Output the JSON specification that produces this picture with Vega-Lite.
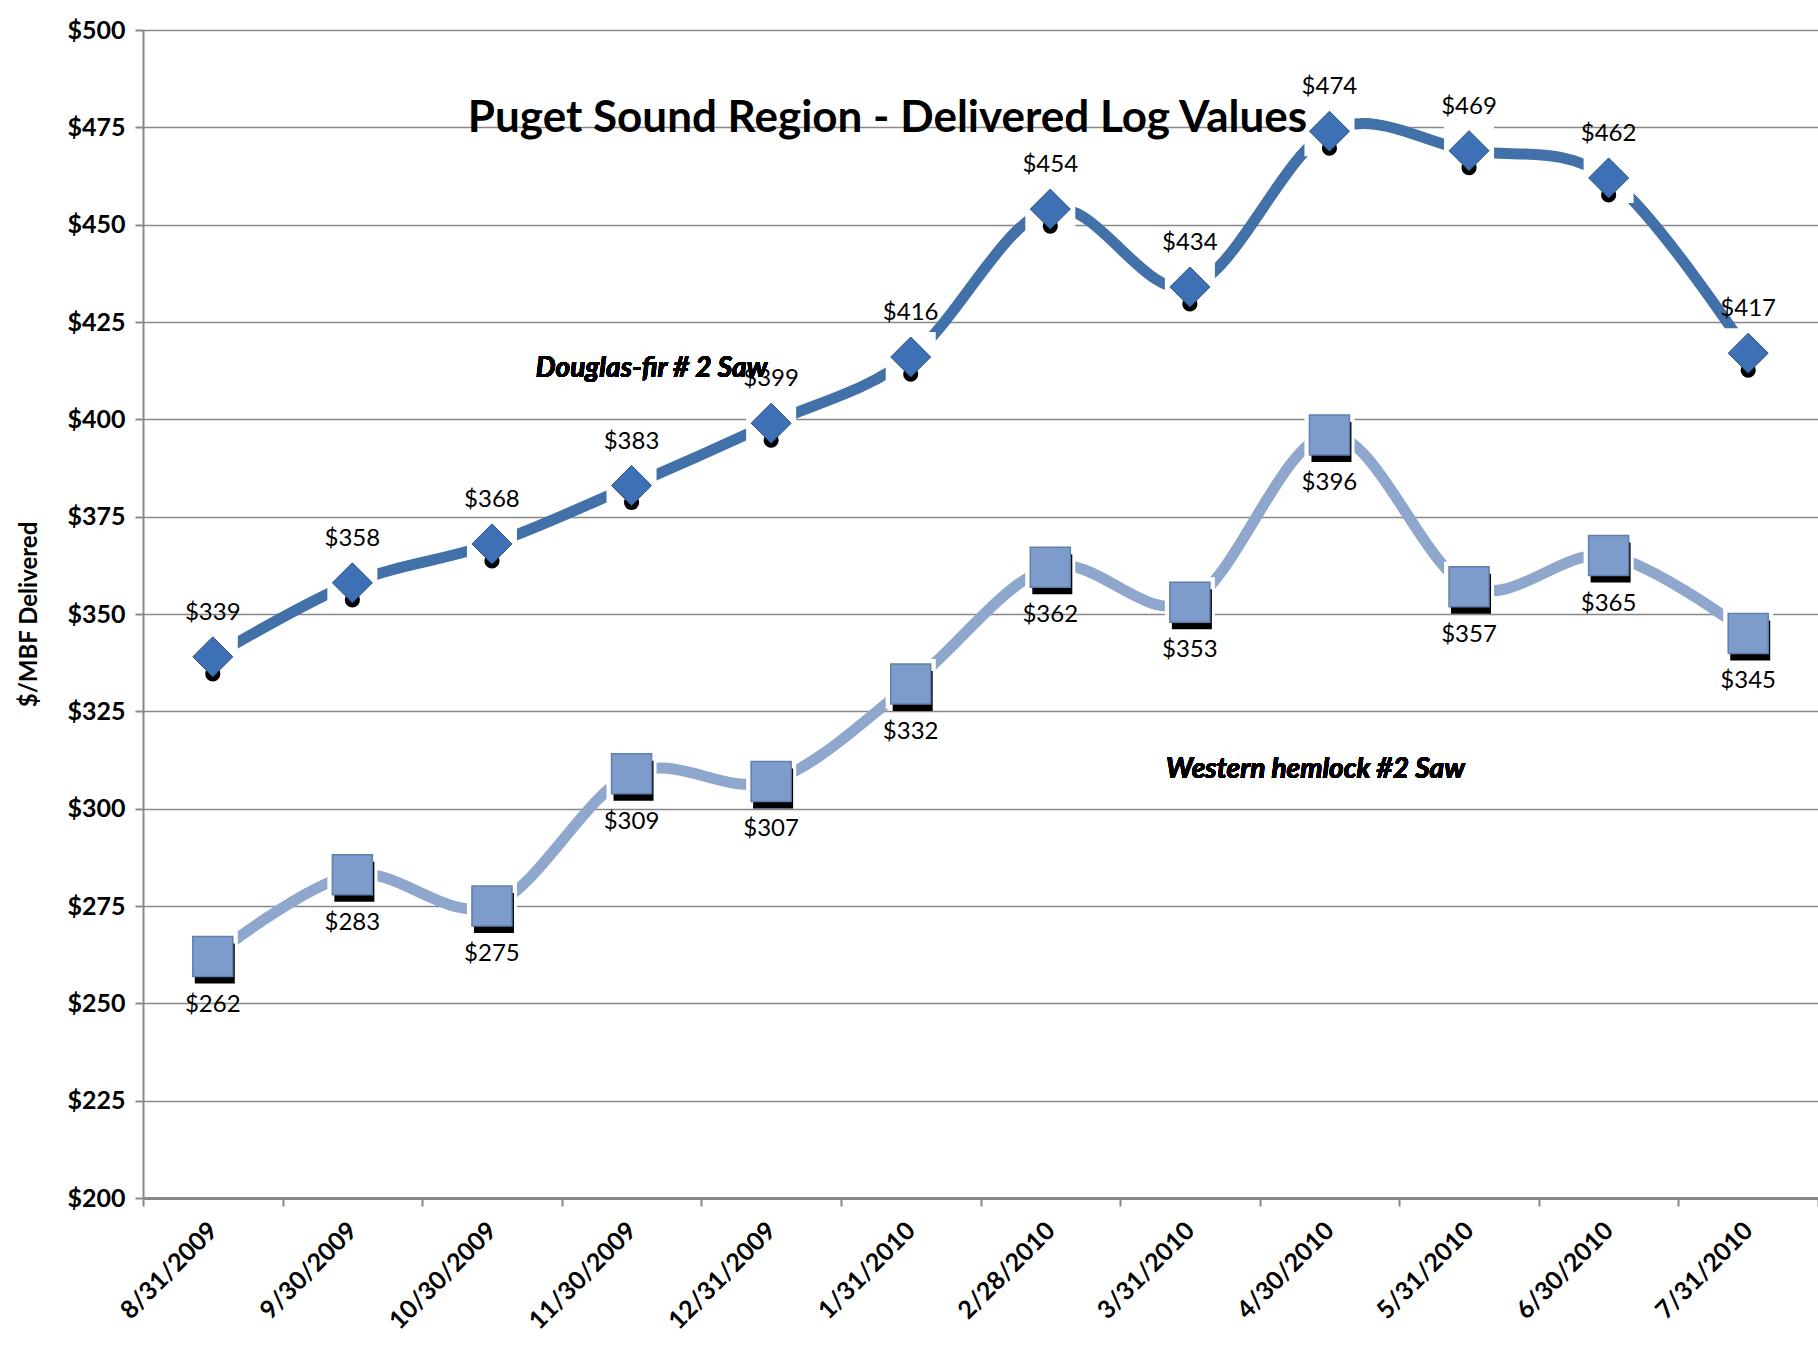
{
  "$schema": "https://vega.github.io/schema/vega-lite/v6.json",
  "width": 1675,
  "height": 1168,
  "autosize": {"type": "none"},
  "padding": {"left": 143, "top": 30, "right": 0, "bottom": 157},
  "background": "white",
  "config": {"view": {"stroke": null}, "font": "Lato"},
  "title": {
    "text": "Puget Sound Region - Delivered Log Values",
    "font": "Lato",
    "fontSize": 44,
    "fontWeight": "bold",
    "color": "black",
    "anchor": "middle",
    "baseline": "alphabetic",
    "offset": 0,
    "dx": -93,
    "dy": 158
  },
  "data": {
    "values": [
      {"date": "8/31/2009", "series": "Douglas-fir # 2 Saw", "price": 339},
      {"date": "9/30/2009", "series": "Douglas-fir # 2 Saw", "price": 358},
      {"date": "10/30/2009", "series": "Douglas-fir # 2 Saw", "price": 368},
      {"date": "11/30/2009", "series": "Douglas-fir # 2 Saw", "price": 383},
      {"date": "12/31/2009", "series": "Douglas-fir # 2 Saw", "price": 399},
      {"date": "1/31/2010", "series": "Douglas-fir # 2 Saw", "price": 416},
      {"date": "2/28/2010", "series": "Douglas-fir # 2 Saw", "price": 454},
      {"date": "3/31/2010", "series": "Douglas-fir # 2 Saw", "price": 434},
      {"date": "4/30/2010", "series": "Douglas-fir # 2 Saw", "price": 474},
      {"date": "5/31/2010", "series": "Douglas-fir # 2 Saw", "price": 469},
      {"date": "6/30/2010", "series": "Douglas-fir # 2 Saw", "price": 462},
      {"date": "7/31/2010", "series": "Douglas-fir # 2 Saw", "price": 417},
      {"date": "8/31/2009", "series": "Western hemlock #2 Saw", "price": 262},
      {"date": "9/30/2009", "series": "Western hemlock #2 Saw", "price": 283},
      {"date": "10/30/2009", "series": "Western hemlock #2 Saw", "price": 275},
      {"date": "11/30/2009", "series": "Western hemlock #2 Saw", "price": 309},
      {"date": "12/31/2009", "series": "Western hemlock #2 Saw", "price": 307},
      {"date": "1/31/2010", "series": "Western hemlock #2 Saw", "price": 332},
      {"date": "2/28/2010", "series": "Western hemlock #2 Saw", "price": 362},
      {"date": "3/31/2010", "series": "Western hemlock #2 Saw", "price": 353},
      {"date": "4/30/2010", "series": "Western hemlock #2 Saw", "price": 396},
      {"date": "5/31/2010", "series": "Western hemlock #2 Saw", "price": 357},
      {"date": "6/30/2010", "series": "Western hemlock #2 Saw", "price": 365},
      {"date": "7/31/2010", "series": "Western hemlock #2 Saw", "price": 345}
    ]
  },
  "encoding": {
    "x": {
      "field": "date",
      "type": "nominal",
      "sort": null,
      "scale": {"type": "band", "paddingInner": 0, "paddingOuter": 0},
      "axis": {
        "title": null,
        "tickBand": "extent",
        "labelAngle": -45,
        "labelAlign": "right",
        "labelBaseline": "middle",
        "labelPadding": 20,
        "labelFont": "Lato",
        "labelFontSize": 25,
        "labelFontWeight": "bold",
        "labelColor": "black",
        "tickSize": 8,
        "tickWidth": 2,
        "tickColor": "#888888",
        "domainColor": "#888888",
        "domainWidth": 3,
        "grid": false
      }
    },
    "y": {
      "field": "price",
      "type": "quantitative",
      "scale": {"domain": [200, 500], "nice": false, "zero": false},
      "axis": {
        "values": [200, 225, 250, 275, 300, 325, 350, 375, 400, 425, 450, 475, 500],
        "format": "$.0f",
        "title": "$/MBF Delivered",
        "titleFont": "Lato",
        "titleFontSize": 24,
        "titleFontWeight": "bold",
        "titleColor": "black",
        "titleAngle": -90,
        "titleAlign": "center",
        "titleBaseline": "middle",
        "titleX": -114,
        "labelFont": "Lato",
        "labelFontSize": 25,
        "labelFontWeight": "bold",
        "labelColor": "black",
        "labelPadding": 10,
        "tickSize": 8,
        "tickWidth": 2,
        "tickColor": "#888888",
        "domainColor": "#888888",
        "domainWidth": 2,
        "grid": true,
        "gridColor": "#888888",
        "gridWidth": 1.5
      }
    }
  },
  "layer": [
    {
      "mark": {"type": "line", "strokeWidth": 11, "interpolate": "cardinal"},
      "encoding": {
        "color": {
          "field": "series",
          "type": "nominal",
          "legend": null,
          "scale": {"domain": ["Douglas-fir # 2 Saw", "Western hemlock #2 Saw"], "range": ["#4270A8", "#8FA7CD"]}
        }
      }
    },
    {
      "mark": {"type": "point", "shape": "square", "filled": true, "size": 2500, "color": "white", "opacity": 1}
    },
    {
      "transform": [{"filter": "datum.series == 'Douglas-fir # 2 Saw'"}],
      "mark": {"type": "point", "shape": "circle", "filled": true, "size": 230, "color": "black", "opacity": 1, "yOffset": 17}
    },
    {
      "transform": [{"filter": "datum.series == 'Western hemlock #2 Saw'"}],
      "mark": {"type": "point", "shape": "square", "filled": true, "size": 1600, "color": "black", "opacity": 1, "xOffset": 2, "yOffset": 7}
    },
    {
      "transform": [{"filter": "datum.series == 'Douglas-fir # 2 Saw'"}],
      "mark": {"type": "point", "shape": "diamond", "filled": true, "size": 1600, "color": "#3D70B5", "stroke": "#2B5288", "strokeWidth": 1, "opacity": 1}
    },
    {
      "transform": [{"filter": "datum.series == 'Western hemlock #2 Saw'"}],
      "mark": {"type": "point", "shape": "square", "filled": true, "size": 1600, "color": "#7D9CCB", "stroke": "#5F7FAF", "strokeWidth": 1.5, "opacity": 1}
    },
    {
      "transform": [{"filter": "datum.series == 'Douglas-fir # 2 Saw'"}],
      "mark": {"type": "text", "font": "Lato", "fontSize": 24, "color": "black", "baseline": "middle", "dy": -44},
      "encoding": {"text": {"field": "price", "type": "quantitative", "format": "$.0f"}}
    },
    {
      "transform": [{"filter": "datum.series == 'Western hemlock #2 Saw'"}],
      "mark": {"type": "text", "font": "Lato", "fontSize": 24, "color": "black", "baseline": "middle", "dy": 48},
      "encoding": {"text": {"field": "price", "type": "quantitative", "format": "$.0f"}}
    },
    {
      "mark": {"type": "text", "text": "Douglas-fir # 2 Saw", "font": "Lato", "fontSize": 28, "fontWeight": "bold", "fontStyle": "italic", "color": "black", "baseline": "middle", "dx": 20},
      "encoding": {"x": {"datum": "11/30/2009"}, "y": {"datum": 413}}
    },
    {
      "mark": {"type": "text", "text": "Western hemlock #2 Saw", "font": "Lato", "fontSize": 28, "fontWeight": "bold", "fontStyle": "italic", "color": "black", "baseline": "middle", "dx": -14},
      "encoding": {"x": {"datum": "4/30/2010"}, "y": {"datum": 310}}
    }
  ]
}
